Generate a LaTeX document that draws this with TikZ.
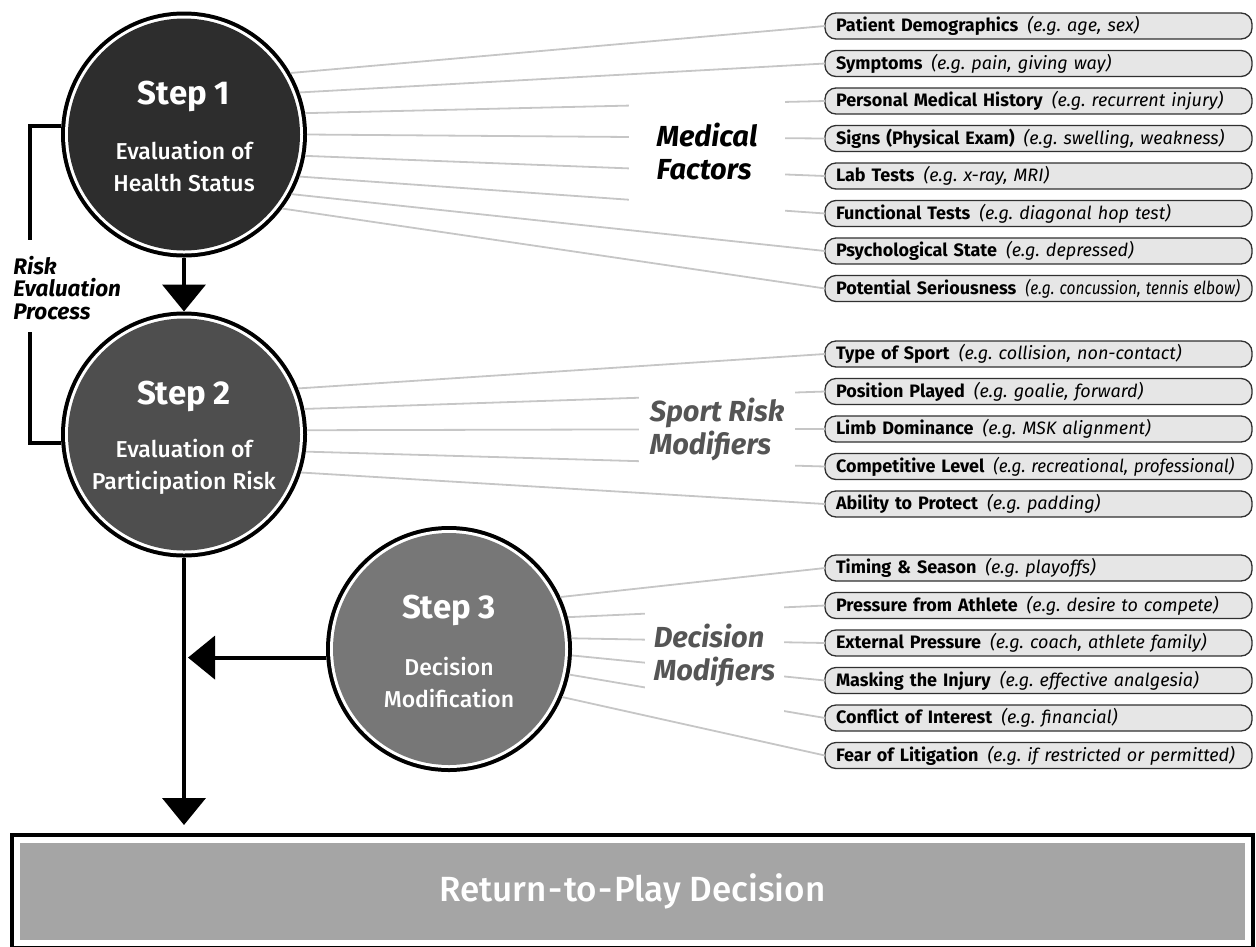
\documentclass[tikz,border=0pt]{standalone}
\usepackage{fontspec}
\setmainfont{Fira Sans}
\newfontfamily\firamed{Fira Sans Medium}
\usepackage{graphicx}
\usetikzlibrary{arrows.meta}

\definecolor{stepA}{HTML}{2D2D2D}
\definecolor{stepB}{HTML}{4E4E4E}
\definecolor{stepC}{HTML}{777777}
\definecolor{rtpfill}{HTML}{A5A5A5}
\definecolor{facfill}{HTML}{E6E6E6}
\definecolor{facline}{HTML}{303030}
\definecolor{spokecol}{HTML}{C6C6C6}
\definecolor{catgray}{HTML}{555555}

\newcommand{\fac}[2]{\mbox{\textbf{#1}\hspace{0.5em}\textit{#2}}}
\frenchspacing

\tikzset{every picture/.style={line width=0.75pt}}

\begin{document}
\begin{tikzpicture}[x=1pt,y=1pt,yscale=-1,xscale=1,
  stepnode/.style={circle, inner sep=0pt, minimum size=232pt, outer sep=7pt,
    preaction={draw=black, line width=14pt}, preaction={draw=white, line width=6pt}},
  steptitle/.style={text=white, inner sep=0pt, font=\fontsize{33}{36}\selectfont\bfseries},
  stepsub/.style={text=white, inner sep=0pt, align=center, font=\fontsize{23}{32}\selectfont\firamed},
  factor/.style={draw=facline, fill=facfill, line width=1.3pt, rounded corners=11pt,
    minimum height=26pt, text width=405pt, inner xsep=11pt, inner ysep=0pt,
    align=left, anchor=west, outer sep=0pt, font=\fontsize{18}{20}\selectfont},
  spoke/.style={draw=spokecol, line width=1.8pt},
  catlabel/.style={fill=white, inner sep=0pt, align=left, font=\fontsize{29}{33}\selectfont\bfseries\itshape},
  flow/.style={line width=4pt, -{Triangle[width=43pt,length=27pt]}},
  bracket/.style={line width=4pt},
  rtpbox/.style={fill=rtpfill, minimum width=1225pt, minimum height=97pt, inner sep=0pt, outer sep=10pt,
    preaction={draw=black, line width=20pt}, preaction={draw=white, line width=12pt},
    text=white, font=\fontsize{35}{40}\selectfont\firamed},
]
\useasboundingbox (0,0) rectangle (1256,946);

% steps
\node[stepnode, fill=stepA] (s1) at (184,134.5) {};
\node[stepnode, fill=stepB] (s2) at (184,434.5) {};
\node[stepnode, fill=stepC] (s3) at (449,649) {};
\node[steptitle] (s1t) at (184,96) {Step 1};
\node[stepsub] (s1s) at (184,167) {Evaluation of\\Health Status};
\node[steptitle] (s2t) at (184,396) {Step 2};
\node[stepsub] (s2s) at (184,467) {Evaluation of\\Participation Risk};
\node[steptitle] (s3t) at (449,610) {Step 3};
\node[stepsub] (s3s) at (449,682) {Decision\\Modification};

% return-to-play box
\node[rtpbox] (rtp) at (632.5,891.5) {Return\kern1.5pt-\kern1.5pt to\kern1.5pt-\kern1.5pt Play Decision};

% medical factors
\node[factor] (mf1) at (825,26) {\fac{Patient Demographics}{(e.g. age, sex)}};
\node[factor] (mf2) at (825,63.5) {\fac{Symptoms}{(e.g. pain, giving way)}};
\node[factor] (mf3) at (825,101) {\fac{Personal Medical History}{(e.g. recurrent injury)}};
\node[factor] (mf4) at (825,138.5) {\fac{Signs (Physical Exam)}{(e.g. swelling, weakness)}};
\node[factor] (mf5) at (825,176) {\fac{Lab Tests}{(e.g. x-ray, MRI)}};
\node[factor] (mf6) at (825,213.5) {\fac{Functional Tests}{(e.g. diagonal hop test)}};
\node[factor] (mf7) at (825,251) {\fac{Psychological State}{(e.g. depressed)}};
\node[factor] (mf8) at (825,288.5) {\fac{Potential Seriousness}{\scalebox{0.86}[1]{(e.g. concussion, tennis elbow)}}};

% sport risk modifiers
\node[factor] (sr1) at (825,354) {\fac{Type of Sport}{(e.g. collision, non-contact)}};
\node[factor] (sr2) at (825,391.5) {\fac{Position Played}{(e.g. goalie, forward)}};
\node[factor] (sr3) at (825,429) {\fac{Limb Dominance}{(e.g. MSK alignment)}};
\node[factor] (sr4) at (825,466.5) {\fac{Competitive Level}{\scalebox{0.95}[1]{(e.g. recreational, professional)}}};
\node[factor] (sr5) at (825,504) {\fac{Ability to Protect}{(e.g. padding)}};

% decision modifiers
\node[factor] (dm1) at (825,568) {\fac{Timing \& Season}{(e.g. playoffs)}};
\node[factor] (dm2) at (825,605.5) {\fac{Pressure from Athlete}{(e.g. desire to compete)}};
\node[factor] (dm3) at (825,643) {\fac{External Pressure}{(e.g. coach, athlete family)}};
\node[factor] (dm4) at (825,680.5) {\fac{Masking the Injury}{(e.g. effective analgesia)}};
\node[factor] (dm5) at (825,718) {\fac{Conflict of Interest}{(e.g. financial)}};
\node[factor] (dm6) at (825,755.5) {\fac{Fear of Litigation}{(e.g. if restricted or permitted)}};

% spokes
\foreach \a/\b in {30/mf1, 20/mf2, 10/mf3, 0/mf4, 350/mf5, 340/mf6, 331/mf7, 323/mf8}
  \draw[spoke] (s1.\a) -- (\b.west);
\foreach \a/\b in {22/sr1, 12/sr2, 2/sr3, 352/sr4, 342/sr5}
  \draw[spoke] (s2.\a) -- (\b.west);
\foreach \a/\b in {25/dm1, 15/dm2, 5/dm3, 357/dm4, 348/dm5, 337/dm6}
  \draw[spoke] (s3.\a) -- (\b.west);

% group labels
\node[catlabel, minimum width=156pt, minimum height=127pt] (medf) at (707,151.5) {Medical\\Factors};
\node[catlabel, text=catgray, minimum width=156pt, minimum height=103pt] (srm) at (717,429.5) {Sport Risk\\Modifiers};
\node[catlabel, text=catgray, minimum width=139pt, minimum height=115pt] (dmod) at (714.5,655.5) {Decision\\Modifiers};

% risk evaluation process
\node[anchor=west, inner sep=0pt, align=left, font=\fontsize{22.5}{22.5}\selectfont\bfseries\itshape] (rep) at (13,288) {Risk\\Evaluation\\Process};
\coordinate (rep1) at (30,240);
\coordinate (rep2) at (30,332);
\draw[bracket] (s1.176) -| (rep1);
\draw[bracket] (rep2) |- (s2.184);

% flow
\draw[flow] (s1.south) -- (s2.north);
\draw[flow, shorten >=8pt] (s2.south) -- (s2.south |- rtp.north);
\draw[flow, shorten >=4pt] (s3.184) -- (s3.184 -| s2.south);

\end{tikzpicture}
\end{document}
